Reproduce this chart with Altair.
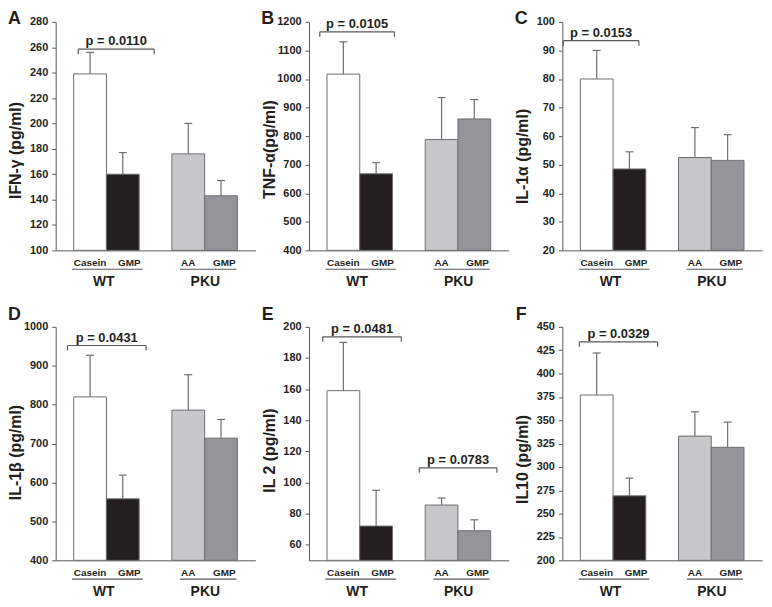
import altair as alt
import pandas as pd

FONT = "Liberation Sans"
AXIS_COL = "#58595b"
EDGE = "#6d6e71"
TEXT_COL = "#231f20"

# ---- data ----
sub_labels = ["Casein", "GMP", "AA", "GMP"]
genotypes = ["WT", "WT", "PKU", "PKU"]
bar_keys = ["WT-Casein", "WT-GMP", "PKU-AA", "PKU-GMP"]
bar_colors = ["#ffffff", "#231f20", "#c7c8ca", "#939598"]

panel_ids = ["A", "B", "C", "D", "E", "F"]
y_titles = ["IFN-γ (pg/ml)", "TNF-α(pg/ml)", "IL-1α (pg/ml)",
            "IL-1β (pg/ml)", "IL 2 (pg/ml)", "IL10 (pg/ml)"]

means_A = [239, 160, 176, 143]
means_B = [1017, 668, 788, 860]
means_C = [80, 48.5, 52.5, 51.5]
means_D = [820, 558, 786, 714]
means_E = [159, 72, 85.5, 69]
means_F = [377, 269, 333, 321]

sem_A = [17, 17, 24, 12]
sem_B = [113, 39, 147, 68]
sem_C = [10, 6, 10.5, 9]
sem_D = [107, 61, 91, 48]
sem_E = [31, 23, 4.5, 7]
sem_F = [45, 19, 26, 27]

y_domains = {"A": [100, 280], "B": [400, 1200], "C": [20, 100],
             "D": [400, 1000], "E": [50, 200], "F": [200, 450]}
y_ticks = {"A": list(range(100, 281, 20)), "B": list(range(400, 1201, 100)),
           "C": list(range(20, 101, 10)), "D": list(range(400, 1001, 100)),
           "E": list(range(60, 201, 20)), "F": list(range(200, 451, 25))}

# significance annotations: (label, x from, x to, y level)
p_values = {
    "A": [("p = 0.0110", 0.69, 3.01, 258.5)],
    "B": [("p = 0.0105", 0.33, 2.61, 1165)],
    "C": [("p = 0.0153", 0.03, 2.34, 93.4)],
    "D": [("p = 0.0431", 0.36, 2.76, 952)],
    "E": [("p = 0.0481", 0.42, 2.82, 193.6), ("p = 0.0783", 3.37, 5.74, 109.4)],
    "F": [("p = 0.0329", 0.52, 2.91, 434)],
}

means = dict(zip(panel_ids, [means_A, means_B, means_C, means_D, means_E, means_F]))
sems = dict(zip(panel_ids, [sem_A, sem_B, sem_C, sem_D, sem_E, sem_F]))

# ---- layout ----
W = 201
ROW_H = [230, 235]
X_MAX = 6.1
PAD = 0.55
slots = [0, 1, 3, 4]
PX_PER_UNIT = W / X_MAX
label_shift = [0, 0.2, 0, 0.1]
underlines = [("WT", 0.5, 2.66), ("PKU", 3.8, 5.52)]
group_centers = [("WT", 1.47), ("PKU", 4.57)]
title_y = {"A": 129, "B": 128, "C": 135, "D": 126, "E": 124, "F": 133}
letter_dy = [-3, -12]


def panel(key, title, height, row):
    ymin, ymax = y_domains[key]
    xs = alt.Scale(domain=[0, X_MAX], nice=False, zero=False)
    ys = alt.Scale(domain=[ymin, ymax], nice=False, zero=False)
    xaxis = alt.Axis(labels=False, ticks=False, title=None, grid=False,
                     domainColor=AXIS_COL, domainWidth=1)
    yaxis = alt.Axis(values=y_ticks[key], format="d", title=title, grid=False,
                     titleX=-40, titleY=title_y[key],
                     titleAlign="center", titleBaseline="middle",
                     domainColor=AXIS_COL, domainWidth=1, tickColor=AXIS_COL,
                     tickSize=4, labelPadding=4)

    def X(f):
        return alt.X(f, scale=xs, axis=xaxis)

    def Y(f):
        return alt.Y(f, scale=ys, axis=yaxis)

    cap = 4 / PX_PER_UNIT
    tick = 5 * (ymax - ymin) / height

    m = means[key]
    s = sems[key]
    df = pd.DataFrame({
        "key": bar_keys,
        "label": sub_labels,
        "x0": [PAD + k for k in slots],
        "x1": [PAD + k + 1 for k in slots],
        "xc": [PAD + k + 0.5 for k in slots],
        "lx": [PAD + k + 0.5 + d for k, d in zip(slots, label_shift)],
        "mean": m,
        "top": [a + b for a, b in zip(m, s)],
        "base": [ymin] * 4,
    })
    df["c0"] = df["xc"] - cap
    df["c1"] = df["xc"] + cap

    bars = alt.Chart(df).mark_rect(stroke=EDGE, strokeWidth=1).encode(
        x=X("x0:Q"), x2="x1:Q", y=Y("mean:Q"), y2="base:Q",
        color=alt.Color("key:N", scale=alt.Scale(domain=bar_keys, range=bar_colors),
                        legend=None),
    )
    err = alt.Chart(df).mark_rule(color=EDGE, strokeWidth=1.2).encode(
        x=X("xc:Q"), y=Y("mean:Q"), y2="top:Q",
    )
    caps = alt.Chart(df).mark_rule(color=EDGE, strokeWidth=1.2).encode(
        x=X("c0:Q"), x2="c1:Q", y=Y("top:Q"),
    )

    pv = pd.DataFrame(p_values[key], columns=["text", "b0", "b1", "by"])
    pv["bc"] = (pv["b0"] + pv["b1"]) / 2
    pv["bt"] = pv["by"] - tick
    br_h = alt.Chart(pv).mark_rule(color=AXIS_COL, strokeWidth=1.2).encode(
        x=X("b0:Q"), x2="b1:Q", y=Y("by:Q"),
    )
    br_l = alt.Chart(pv).mark_rule(color=AXIS_COL, strokeWidth=1.2).encode(
        x=X("b0:Q"), y=Y("by:Q"), y2="bt:Q",
    )
    br_r = alt.Chart(pv).mark_rule(color=AXIS_COL, strokeWidth=1.2).encode(
        x=X("b1:Q"), y=Y("by:Q"), y2="bt:Q",
    )
    ptxt = alt.Chart(pv).mark_text(font=FONT, fontSize=13, fontWeight="bold",
                                   color=TEXT_COL, baseline="alphabetic", dy=-4).encode(
        x=X("bc:Q"), y=Y("by:Q"), text="text:N",
    )

    sub = alt.Chart(df).mark_text(font=FONT, fontSize=10, fontWeight="bold",
                                  color=TEXT_COL, baseline="middle").encode(
        x=X("lx:Q"), y=alt.value(height + 13), text="label:N",
    )
    ul = pd.DataFrame(underlines, columns=["g", "u0", "u1"])
    under = alt.Chart(ul).mark_rule(color=AXIS_COL, strokeWidth=1.2).encode(
        x=X("u0:Q"), x2="u1:Q", y=alt.value(height + 19),
    )
    gc = pd.DataFrame(group_centers, columns=["g", "gx"])
    grp = alt.Chart(gc).mark_text(font=FONT, fontSize=14, fontWeight="bold",
                                  color=TEXT_COL, baseline="middle").encode(
        x=X("gx:Q"), y=alt.value(height + 32), text="g:N",
    )
    letter = alt.Chart(pd.DataFrame({"t": [key]})).mark_text(
        font=FONT, fontSize=18, fontWeight="bold", color=TEXT_COL,
        baseline="middle", align="center").encode(
        x=alt.value(-41.5), y=alt.value(letter_dy[row]), text="t:N",
    )

    return alt.layer(bars, err, caps, br_h, br_l, br_r, ptxt, sub, under, grp,
                     letter).properties(width=W, height=height)


rows = []
for r in range(2):
    charts = [panel(panel_ids[r * 3 + c], y_titles[r * 3 + c], ROW_H[r], r)
              for c in range(3)]
    rows.append(alt.hconcat(*charts, spacing=6))

chart = alt.vconcat(*rows, spacing=17).properties(
    padding={"left": 0, "top": 0, "right": 2, "bottom": 0},
    background="white",
).configure_view(stroke=None).configure_axis(
    labelFont=FONT, labelFontSize=11, labelFontWeight="bold", labelColor=TEXT_COL,
    titleFont=FONT, titleFontSize=16, titleFontWeight="bold", titleColor=TEXT_COL,
)

chart.save("out.html", embed_options={"renderer": "svg", "actions": False})
